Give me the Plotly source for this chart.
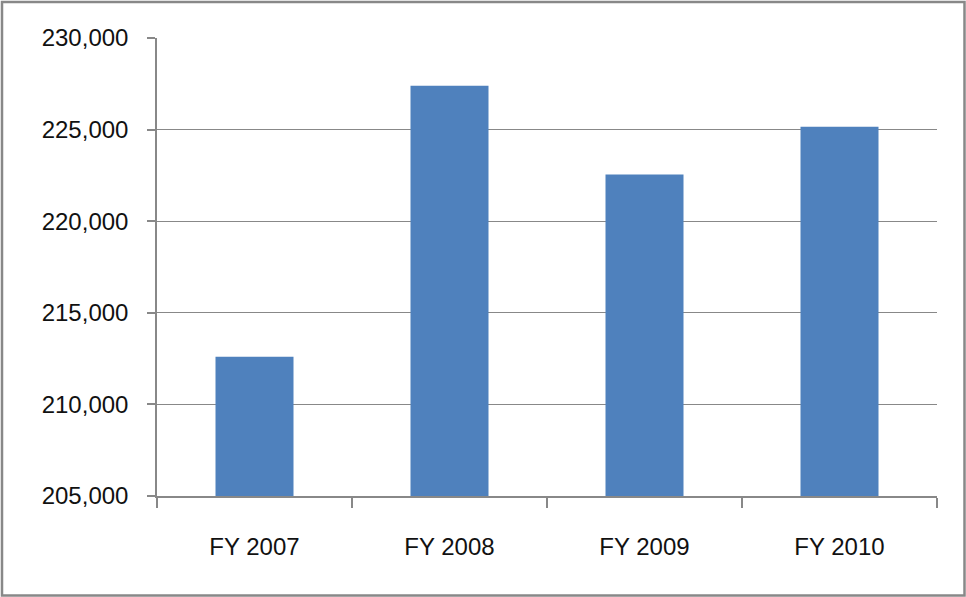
import plotly.graph_objects as go

categories = ["FY 2007", "FY 2008", "FY 2009", "FY 2010"]
values = [212600, 227400, 222550, 225150]
y_ticks = [205000, 210000, 215000, 220000, 225000, 230000]

W, H = 966, 597
L, R, T, B = 157, 29, 38, 101
pw, ph = W - L - R, H - T - B

fig = go.Figure(go.Bar(x=categories, y=values, marker=dict(color="#4F81BD", line=dict(width=0)),
                       width=0.4))

gray = "#888888"
fig.update_layout(
    width=W, height=H,
    margin=dict(l=L, r=R, t=T, b=B),
    paper_bgcolor="white", plot_bgcolor="white",
    font=dict(family="Liberation Sans", size=24, color="#111111"),
    showlegend=False,
    xaxis=dict(showgrid=False, showline=True, linecolor=gray, linewidth=1.5,
               ticks="outside", tickson="boundaries", ticklen=10, tickcolor=gray, tickwidth=1.5,
               ticklabelstandoff=28),
    yaxis=dict(range=[205000, 230000], tickvals=y_ticks,
               ticktext=[f"{v:,}" for v in y_ticks],
               showgrid=True, gridcolor=gray, gridwidth=1.2,
               showline=True, linecolor=gray, linewidth=1.5,
               ticks="outside", ticklen=8, tickcolor=gray, tickwidth=1.5,
               ticklabelstandoff=14, zeroline=False),
    shapes=[dict(type="rect", xref="paper", yref="paper",
                 x0=(2 - L) / pw, x1=(964.5 - L) / pw,
                 y0=(T + ph - 595.5) / ph, y1=(T + ph - 2) / ph,
                 line=dict(color=gray, width=2.5), fillcolor="rgba(0,0,0,0)")],
)

fig.write_html("out.html")
